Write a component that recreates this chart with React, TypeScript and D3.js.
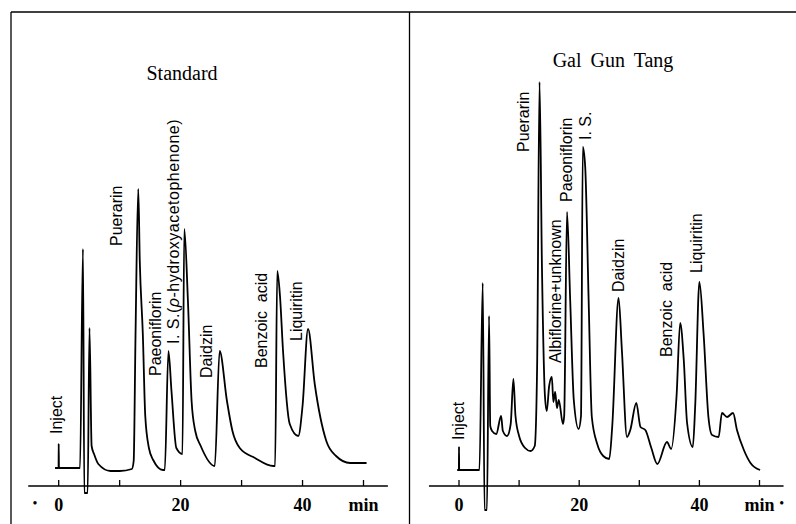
import React from 'react';
import * as d3 from 'd3';

// retention time (min) / detector response (arbitrary units)
const stdTime = [-0.6, -0.02, 0, 0.04, 3.5, 3.98, 4.2, 4.75, 5.05, 5.4, 5.8, 6.5, 8.5, 10, 12, 12.3, 12.6, 13.05, 13.3, 13.8, 14.2, 14.8, 15.5, 17.1, 17.4, 18.0, 18.5, 19.3, 20.3, 20.6, 21.2, 21.8, 22.4, 23.3, 25.6, 26.4, 27.6, 28.5, 29.7, 32.2, 35.2, 35.5, 35.85, 36.3, 36.8, 37.9, 39.3, 40.0, 40.9, 42.0, 43.9, 45.5, 47.8, 50.5];
const stdSignal = [18, 18, 42, 18, 18, 237, -7, -7, 158, 40, 32, 22, 15, 15, 17, 25, 150, 297, 225, 152, 70, 38, 26, 16, 16, 135, 95, 38, 32, 257, 185, 85, 55, 40, 20, 135, 85, 55, 38, 28, 20, 20, 215, 190, 135, 62, 50, 80, 157, 102, 45, 30, 23, 23];

const ggtTime = [-0.3, -0.02, 0, 0.03, 3.4, 3.95, 4.25, 4.65, 5.0, 5.2, 5.5, 6.2, 7.0, 7.3, 8.0, 8.6, 9.05, 9.4, 10.0, 11.0, 11.9, 12.6, 13.0, 13.4, 13.8, 14.3, 14.6, 15.0, 15.45, 15.7, 16.0, 16.3, 16.6, 17.3, 17.5, 17.97, 18.5, 19.1, 19.9, 20.3, 20.6, 21.0, 21.57, 22.1, 23.0, 24.0, 25.0, 25.5, 26.55, 27.1, 27.95, 28.5, 29.5, 30.2, 31.0, 32.0, 33.0, 34.6, 35.3, 36.2, 36.8, 37.4, 37.95, 38.9, 39.3, 40.0, 40.7, 41.5, 42.1, 43.2, 43.75, 44.6, 45.6, 46.25, 47.4, 48.5, 50.1];
const ggtSignal = [16, 16, 39, 16, 16, 203, -24, -24, 170, 60, 55, 52, 70, 55, 50, 62, 107, 70, 50, 38, 35, 40, 120, 404, 220, 90, 75, 100, 109, 84, 94, 78, 86, 62, 70, 274, 186, 86, 57, 70, 339, 319, 186, 69, 42, 30, 27, 60, 188, 136, 49, 56, 83, 59, 56, 38, 22, 44, 37, 90, 163, 126, 63, 39, 80, 204, 152, 69, 51, 49, 73, 69, 73, 56, 36, 23, 16];

// peak labels: name, time of label, response where the text starts
const stdLabels = ['Inject', 'Puerarin', 'Paeoniflorin', 'I. S.(ρ-hydroxyacetophenone)', 'Daidzin', 'Benzoic  acid', 'Liquiritin'];
const stdLabelTime = [-0.3, 9.5, 15.8, 18.8, 24.3, 33.3, 39.0];
const stdLabelAt = [52, 240, 110, 142, 108, 118, 145];

const ggtLabels = ['Inject', 'Puerarin', 'Albiflorine+unknown', 'Paeoniflorin', 'I. S.', 'Daidzin', 'Benzoic  acid', 'Liquiritin'];
const ggtLabelTime = [-0.1, 10.7, 16.0, 17.9, 21.0, 26.5, 34.6, 39.55];
const ggtLabelAt = [46, 334, 123, 284, 346, 194, 129, 213];

const tickValues = [0, 10, 20, 30, 40, 50];
const tickLabels = ['0', '', '20', '', '40', 'min'];

const W = 796;
const H = 524;
const AXIS_Y = 486;

type PanelProps = {
  title: string;
  titleX: number;
  titleY: number;
  time: number[];
  signal: number[];
  labels: string[];
  labelTime: number[];
  labelAt: number[];
  x0: number;
  x50: number;
  dot: number;
};

const Panel = ({ title, titleX, titleY, time, signal, labels, labelTime, labelAt, x0, x50, dot }: PanelProps) => {
  const x = d3.scaleLinear().domain([0, 50]).range([x0, x50]);
  const y = d3.scaleLinear().domain([0, 400]).range([AXIS_Y, AXIS_Y - 400]);

  const pts = time.map((t, i) => [t, signal[i]] as [number, number]);
  const line = d3
    .line<[number, number]>()
    .x((d) => x(d[0]))
    .y((d) => y(d[1]))
    .curve(d3.curveMonotoneX);

  return (
    <g>
      <text x={titleX} y={titleY} textAnchor="middle" fontFamily="'Liberation Serif', serif" fontSize={20} wordSpacing={4}>
        {title}
      </text>
      {/* axis */}
      <line x1={x(-5)} x2={x(54)} y1={AXIS_Y} y2={AXIS_Y} stroke="#000" strokeWidth={1.4} />
      {tickValues.map((v, i) => (
        <g key={v}>
          <line x1={x(v)} x2={x(v)} y1={AXIS_Y} y2={AXIS_Y - 6} stroke="#000" strokeWidth={1.3} />
          <text
            x={x(v)}
            y={AXIS_Y + 25}
            textAnchor="middle"
            fontFamily="'Liberation Serif', serif"
            fontWeight="bold"
            fontSize={18}
          >
            {tickLabels[i]}
          </text>
        </g>
      ))}
      <text x={x(dot)} y={AXIS_Y + 22} textAnchor="middle" fontSize={14} fontFamily="'Liberation Serif', serif">
        •
      </text>
      {/* trace */}
      <path d={line(pts) || ''} fill="none" stroke="#000" strokeWidth={1.8} strokeLinejoin="round" />
      {/* peak labels */}
      {labels.map((s, i) => (
        <text
          key={s + i}
          transform={`translate(${x(labelTime[i])},${y(labelAt[i])}) rotate(-90)`}
          dominantBaseline="central"
          fontFamily="'Liberation Sans', Arial, sans-serif"
          fontSize={16}
          letterSpacing={s.includes('ρ') ? 0.5 : 0}
          style={{ whiteSpace: 'pre' }}
        >
          {s.includes('ρ') ? (
            <>
              {s.split('ρ')[0]}
              <tspan fontStyle="italic">ρ</tspan>
              {s.split('ρ')[1]}
            </>
          ) : (
            s
          )}
        </text>
      ))}
    </g>
  );
};

export default function App() {
  return (
    <svg width={W} height={H} style={{ position: 'absolute', left: 0, top: 0, background: '#fff' }}>
      <rect width={W} height={H} fill="#fff" />
      {/* frames */}
      <line x1={11} x2={11} y1={12} y2={H} stroke="#000" strokeWidth={1.3} />
      <line x1={11} x2={W} y1={12} y2={12} stroke="#000" strokeWidth={1.3} />
      <line x1={409.5} x2={409.5} y1={12} y2={H} stroke="#000" strokeWidth={1.3} />
      <Panel
        title="Standard"
        titleX={182}
        titleY={80}
        time={stdTime}
        signal={stdSignal}
        labels={stdLabels}
        labelTime={stdLabelTime}
        labelAt={stdLabelAt}
        x0={58.7}
        x50={363.5}
        dot={-3.9}
      />
      <Panel
        title="Gal Gun Tang"
        titleX={613}
        titleY={67}
        time={ggtTime}
        signal={ggtSignal}
        labels={ggtLabels}
        labelTime={ggtLabelTime}
        labelAt={ggtLabelAt}
        x0={459}
        x50={759.5}
        dot={53.7}
      />
    </svg>
  );
}
